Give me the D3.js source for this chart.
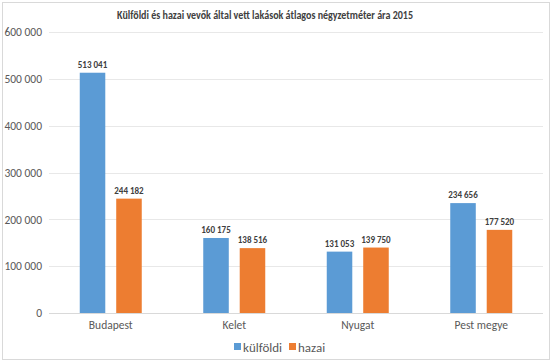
<!DOCTYPE html>
<html><head><meta charset="utf-8">
<script src="https://cdn.jsdelivr.net/npm/d3@7"></script>
<style>
html,body{margin:0;padding:0;background:#fff;}
svg{display:block;font-family:Carlito,Lato,"Open Sans",sans-serif;}
</style></head>
<body>
<svg id="c" width="553" height="363"></svg>
<script>
const categories = ["Budapest", "Kelet", "Nyugat", "Pest megye"];
const kulfoldi = [513041, 160175, 131053, 234656];
const hazai = [244182, 138516, 139750, 177520];
const seriesNames = ["külföldi", "hazai"];
const yTicks = [0, 100000, 200000, 300000, 400000, 500000, 600000];
const title = "Külföldi és hazai vevők által vett lakások átlagos négyzetméter ára 2015";

(function () {
const colors = ["#5B9BD5", "#ED7D31"];
const fmt = v => d3.format(",")(v).replace(/,/g, " ");

const svg = d3.select("#c");
svg.append("rect").attr("x", 2.5).attr("y", 2.5).attr("width", 547).attr("height", 357)
  .attr("fill", "#fff").attr("stroke", "#D9D9D9");

const pl = 49, pr = 543, pt = 32, pb = 313;
const x = d3.scaleBand().domain(categories).range([pl, pr]).paddingInner(0).paddingOuter(0);
const y = d3.scaleLinear().domain([0, 600000]).range([pb, pt]);
const sub = d3.scaleBand().domain(seriesNames).range([0, 62]).paddingInner(0.3).paddingOuter(0);

svg.append("text").attr("x", 265).attr("y", 19).attr("text-anchor", "middle")
  .attr("font-size", 12).attr("font-weight", "bold").attr("fill", "#404040")
  .attr("textLength", 296).attr("lengthAdjust", "spacingAndGlyphs").text(title);

svg.append("g").selectAll("line").data(yTicks).join("line")
  .attr("x1", pl).attr("x2", pr)
  .attr("y1", d => Math.round(y(d)) + 0.5).attr("y2", d => Math.round(y(d)) + 0.5)
  .attr("stroke", d => d === 0 ? "#D9D9D9" : "#E8E8E8").attr("stroke-width", 1);

const yAxis = d3.axisLeft(y).tickValues(yTicks).tickFormat(fmt).tickSize(0).tickPadding(0);
const ga = svg.append("g").attr("transform", `translate(42,0)`).call(yAxis);
ga.select(".domain").remove();
ga.selectAll("text").attr("font-size", 11.5).attr("fill", "#595959").attr("font-family", "Carlito,Lato,sans-serif");

const xAxis = d3.axisBottom(x).tickSize(0).tickPadding(0);
const gx = svg.append("g").attr("transform", `translate(0,${pb + 8})`).call(xAxis);
gx.select(".domain").remove();
gx.selectAll("text").attr("font-size", 11.5).attr("fill", "#595959").attr("font-family", "Carlito,Lato,sans-serif");

const data = categories.map((c, i) => ({c, vals: [kulfoldi[i], hazai[i]]}));
const groupW = 62;
const g = svg.append("g").selectAll("g").data(data).join("g")
  .attr("transform", d => `translate(${x(d.c) + x.bandwidth() / 2 - groupW / 2},0)`);

g.selectAll("rect").data(d => d.vals.map((v, j) => ({v, s: seriesNames[j], j}))).join("rect")
  .attr("x", d => sub(d.s)).attr("width", sub.bandwidth())
  .attr("y", d => y(d.v)).attr("height", d => pb - y(d.v))
  .attr("fill", d => colors[d.j]);

g.selectAll("text").data(d => d.vals.map((v, j) => ({v, s: seriesNames[j], j}))).join("text")
  .attr("x", d => sub(d.s) + sub.bandwidth() / 2).attr("y", d => y(d.v) - 5)
  .attr("text-anchor", "middle").attr("font-size", 9).attr("font-weight", "bold")
  .attr("fill", "#404040").text(d => fmt(d.v));

const leg = svg.append("g");
const legX = [234, 289];
seriesNames.forEach((s, i) => {
  leg.append("rect").attr("x", legX[i]).attr("y", 343).attr("width", 7).attr("height", 7).attr("fill", colors[i]);
  leg.append("text").attr("x", legX[i] + 9).attr("y", 351.5).attr("font-size", 13)
    .attr("fill", "#595959").text(s);
});
})();
</script>
</body></html>
